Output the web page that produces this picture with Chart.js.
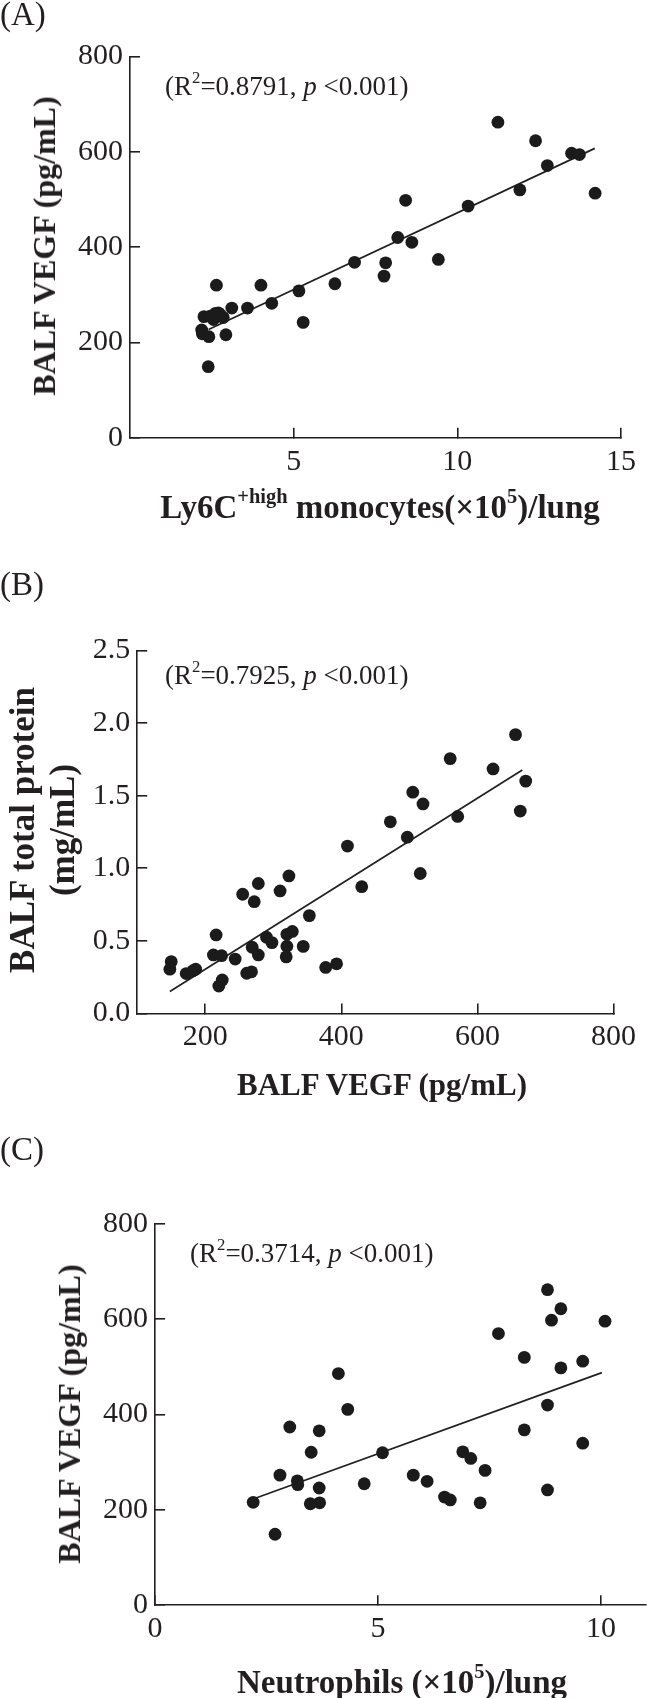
<!DOCTYPE html>
<html>
<head>
<meta charset="utf-8">
<script src="https://cdn.jsdelivr.net/npm/chart.js@4.4.1/dist/chart.umd.min.js"></script>
<style>
  body { margin:0; background:#fff; width:652px; height:1698px; position:relative; overflow:hidden;
         font-family:'Liberation Serif', 'Times New Roman', serif; color:#231f20; }
  .panel { position:absolute; left:0; width:652px; }
  .txt { position:absolute; white-space:nowrap; line-height:1; z-index:2; }
  .c { transform:translate(-50%,-50%); }
  .rot { transform:translate(-50%,-50%) rotate(-90deg); text-align:center; }
  .ttl { font-weight:bold; }
  .note { font-size:27px; transform:translateY(-50%); }
  .lab { font-size:33px; }
  sup { font-size:62%; position:relative; top:-0.15em; vertical-align:super; line-height:0; }
</style>
</head>
<body>

<div class="panel" style="top:0;height:530px"><canvas id="chartA"></canvas></div>
<div class="panel" style="top:520px;height:575px"><canvas id="chartB"></canvas></div>
<div class="panel" style="top:1095px;height:603px"><canvas id="chartC"></canvas></div>

<!-- panel letters -->
<div class="txt lab" style="left:0;top:-2px">(A)</div>
<div class="txt lab" style="left:0;top:568px">(B)</div>
<div class="txt lab" style="left:0;top:1133px">(C)</div>

<!-- regression notes -->
<div class="txt note" style="left:165px;top:86px">(R<sup>2</sup>=0.8791, <i>p</i> &lt;0.001)</div>
<div class="txt note" style="left:165px;top:675px">(R<sup>2</sup>=0.7925, <i>p</i> &lt;0.001)</div>
<div class="txt note" style="left:190px;top:1253px">(R<sup>2</sup>=0.3714, <i>p</i> &lt;0.001)</div>

<!-- axis titles -->
<div class="txt ttl rot" style="left:44px;top:246px;font-size:32px">BALF VEGF (pg/mL)</div>
<div class="txt ttl c" style="left:380px;top:507px;font-size:33px">Ly6C<sup>+high</sup> monocytes(×10<sup>5</sup>)/lung</div>

<div class="txt ttl rot" style="left:43px;top:830px;font-size:35px;line-height:40px">BALF total protein<br>(mg/mL)</div>
<div class="txt ttl c" style="left:382px;top:1084px;font-size:31px">BALF VEGF (pg/mL)</div>

<div class="txt ttl rot" style="left:69px;top:1414px;font-size:32px">BALF VEGF (pg/mL)</div>
<div class="txt ttl c" style="left:402px;top:1682px;font-size:33px">Neutrophils (×10<sup>5</sup>)/lung</div>

<script>
// ── (A) Ly6C+high monocytes vs BALF VEGF ─────────────
const xA = [11.24, 12.39, 13.49, 13.73, 12.75, 11.91, 14.21, 8.42, 10.33, 8.18, 8.61, 9.42,
            6.86, 7.81, 7.76, 6.26, 4.00, 2.64, 5.16, 4.33, 3.59, 3.11, 5.29, 2.26, 2.61,
            2.76, 2.85, 2.55, 2.70, 2.45, 2.19, 2.21, 2.41, 2.93, 2.39];
const yA = [662, 623, 597, 594, 571, 520, 513, 498, 486, 420, 410, 374,
            368, 367, 339, 323, 320, 320, 308, 282, 272, 272, 242, 254, 261,
            258, 252, 248, 262, 255, 226, 218, 212, 216, 149];
const fitAx = [2.4, 14.2];
const fitAy = [227, 607];
const xTicksA = [5, 10, 15];
const yTicksA = [0, 200, 400, 600, 800];

// ── (B) BALF VEGF vs total protein ───────────────────
const xB = [656, 560, 623, 671, 505, 520, 571, 663, 472, 497, 409, 516, 430, 323, 278,
            310, 255, 272, 353, 216, 328, 320, 290, 298, 269, 320, 344, 244, 278, 212,
            224, 319, 377, 393, 150, 148, 172, 182, 186, 261, 268, 220, 225];
const yB = [1.92, 1.755, 1.684, 1.60, 1.524, 1.443, 1.357, 1.394, 1.32, 1.214, 1.153, 0.964,
            0.873, 0.947, 0.895, 0.844, 0.821, 0.770, 0.674, 0.541, 0.565, 0.545, 0.525,
            0.488, 0.456, 0.463, 0.462, 0.375, 0.403, 0.403, 0.398, 0.390, 0.317, 0.342,
            0.357, 0.305, 0.275, 0.295, 0.305, 0.277, 0.287, 0.189, 0.231];
const fitBx = [148, 666];
const fitBy = [0.152, 1.676];
const xTicksB = [200, 400, 600, 800];
const yTicksB = [0, 0.5, 1.0, 1.5, 2.0, 2.5];

// ── (C) Neutrophils vs BALF VEGF ─────────────────────
const xC = [8.80, 9.10, 8.89, 10.09, 7.70, 8.28, 9.59, 9.10, 4.11, 8.80, 4.32, 3.02,
            8.28, 3.68, 9.59, 3.50, 5.10, 6.90, 7.08, 7.40, 2.80, 5.79, 3.19, 6.10,
            3.20, 4.69, 3.68, 8.80, 6.49, 6.62, 2.20, 3.48, 3.69, 7.29, 2.69];
const yC = [662, 622, 598, 596, 570, 520, 512, 498, 486, 420, 411, 374,
            368, 366, 340, 321, 320, 322, 308, 283, 273, 273, 261, 260,
            253, 255, 246, 242, 227, 221, 216, 213, 215, 215, 149];
const fitCx = [2.2, 10.02];
const fitCy = [223, 488];
const xTicksC = [0, 5, 10];
const yTicksC = [0, 200, 400, 600, 800];

const INK = '#231f20';

// ticks point inward (negative length), labels kept off the axis by padding
function axis(min, max, ticks, fmt, size, isY) {
    return {
        type: 'linear', min: min, max: max,
        afterBuildTicks: s => { s.ticks = ticks.map(v => ({ value: v })); },
        afterFit: s => { if (isY) s.width = size; else s.height = size; },
        border: { display: true, color: INK, width: 1.6 },
        grid: { display: true, drawOnChartArea: false, drawTicks: true, tickLength: -10, color: INK, lineWidth: 1.6 },
        ticks: {
            font: { family: 'Liberation Serif', size: 30 }, color: INK,
            padding: isY ? 17 : 16,
            callback: v => fmt(v)
        }
    };
}

function scatter(id, xs, ys, fx, fy, xAxis, yAxis, pad) {
    new Chart(document.getElementById(id), {
        type: 'scatter',
        data: {
            datasets: [
                {
                    data: xs.map((x, i) => ({ x: x, y: ys[i] })),
                    pointRadius: 6.4, pointHoverRadius: 6.4, pointBorderWidth: 0,
                    pointBackgroundColor: '#1b1b1b', clip: false
                },
                {
                    type: 'line',
                    data: fx.map((x, i) => ({ x: x, y: fy[i] })),
                    borderColor: INK, borderWidth: 1.7, pointRadius: 0, fill: false, clip: false
                }
            ]
        },
        options: {
            responsive: true, maintainAspectRatio: false, animation: false,
            layout: { padding: { top: pad.top, right: pad.right, left: 0, bottom: 0 } },
            plugins: { legend: { display: false }, tooltip: { enabled: false } },
            scales: { x: xAxis, y: yAxis }
        }
    });
}

const int = v => String(v);
const dec1 = v => v.toFixed(1);

scatter('chartA', xA, yA, fitAx, fitAy,
    axis(0, 15, xTicksA, int, 92.3, false),
    axis(0, 800, yTicksA, int, 130, true),
    { top: 56.4, right: 24 });

scatter('chartB', xB, yB, fitBx, fitBy,
    axis(100, 800, xTicksB, int, 81.5, false),
    axis(0, 2.5, yTicksB, dec1, 137.2, true),
    { top: 130.4, right: 24.2 });

scatter('chartC', xC, yC, fitCx, fitCy,
    axis(0, 11, xTicksC, int, 92.7, false),
    axis(0, 800, yTicksC, int, 155.1, true),
    { top: 128.9, right: 1.3 });
</script>
</body>
</html>
